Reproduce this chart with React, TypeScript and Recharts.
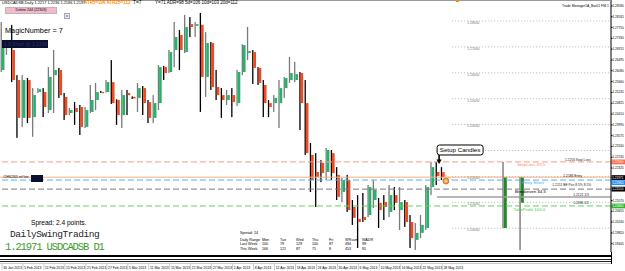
import React from "react";
import {
  ComposedChart,
  Bar,
  XAxis,
  YAxis,
  ReferenceLine,
  ReferenceArea,
  ReferenceDot,
} from "recharts";

// ── Daily candles, oldest first (USDCADSB D1) ─────────────────────────────────

const opens = [
  1.2611, 1.2696, 1.2688, 1.2572, 1.2426, 1.2572, 1.2429, 1.2526, 1.2526, 1.2456,
  1.2591, 1.2611, 1.2507, 1.2445, 1.2464, 1.2468, 1.2391, 1.2449, 1.2495, 1.2526,
  1.2526, 1.2564, 1.2495, 1.2437, 1.2522, 1.2507, 1.2503, 1.2541, 1.2487, 1.2426,
  1.2483, 1.2622, 1.2603, 1.2688, 1.2746, 1.268, 1.2788, 1.2781, 1.2785, 1.2584,
  1.2715, 1.2545, 1.2514, 1.2495, 1.2514, 1.2483, 1.2603, 1.2676, 1.268, 1.2619,
  1.2553, 1.2483, 1.2483, 1.2483, 1.2541, 1.2572, 1.2572, 1.2599, 1.2483, 1.2283,
  1.2217, 1.2252, 1.2217, 1.229, 1.2206, 1.214, 1.2186, 1.2082, 1.2036, 1.2043,
  1.2051, 1.2109, 1.2098, 1.2101, 1.2063, 1.2128, 1.207, 1.2101, 1.2024, 1.1955,
  1.1982, 1.2001, 1.2159, 1.2217, 1.2217,
];
const highs = [
  1.2796, 1.2727, 1.2785, 1.2591, 1.2591, 1.258, 1.2541, 1.2541, 1.2541, 1.2622,
  1.2688, 1.2619, 1.2522, 1.2464, 1.2487, 1.2476, 1.2468, 1.2553, 1.2561, 1.253,
  1.2572, 1.2649, 1.2498, 1.2534, 1.2534, 1.2509, 1.2561, 1.2549, 1.2495, 1.2514,
  1.263, 1.2626, 1.2688, 1.2796, 1.2765, 1.2823, 1.2815, 1.2796, 1.2831, 1.2757,
  1.2719, 1.2611, 1.2541, 1.2534, 1.2541, 1.2611, 1.271, 1.2777, 1.2688, 1.2622,
  1.2572, 1.2495, 1.2514, 1.2572, 1.2584, 1.2661, 1.2642, 1.2603, 1.2572, 1.2329,
  1.229, 1.2263, 1.231, 1.2302, 1.2236, 1.2194, 1.2206, 1.2109, 1.2128, 1.2136,
  1.2167, 1.2186, 1.2117, 1.2128, 1.2167, 1.2159, 1.2159, 1.2109, 1.2051, 1.202,
  1.2051, 1.2167, 1.2256, 1.2256, 1.2236,
];
const lows = [
  1.2603, 1.2669, 1.2564, 1.2349, 1.2391, 1.2406, 1.2353, 1.2522, 1.2429, 1.2445,
  1.2445, 1.2503, 1.2418, 1.2437, 1.2399, 1.236, 1.2387, 1.2445, 1.2456, 1.2522,
  1.2524, 1.248, 1.2399, 1.2387, 1.2437, 1.2499, 1.2449, 1.2437, 1.2406, 1.2406,
  1.2456, 1.2572, 1.2599, 1.2622, 1.2611, 1.2676, 1.2738, 1.2738, 1.2449, 1.2507,
  1.2534, 1.2495, 1.2426, 1.2476, 1.2429, 1.2472, 1.2591, 1.2649, 1.2557, 1.2553,
  1.2429, 1.2429, 1.2449, 1.2387, 1.2503, 1.2561, 1.2564, 1.2379, 1.2283, 1.214,
  1.2082, 1.2178, 1.2186, 1.2186, 1.2109, 1.2101, 1.2063, 1.2013, 1.1924, 1.2024,
  1.2043, 1.2078, 1.2001, 1.2032, 1.2043, 1.207, 1.1993, 1.2005, 1.1924, 1.1916,
  1.1962, 1.1993, 1.2128, 1.2167, 1.2186,
];
const closes = [
  1.2696, 1.2703, 1.2572, 1.2426, 1.2572, 1.2426, 1.2514, 1.2537, 1.2468, 1.2584,
  1.2611, 1.2514, 1.2437, 1.2456, 1.2449, 1.2391, 1.2456, 1.2495, 1.2526, 1.2524,
  1.2564, 1.2483, 1.2437, 1.2514, 1.2514, 1.2501, 1.2541, 1.2483, 1.2426, 1.2483,
  1.2622, 1.2599, 1.268, 1.2738, 1.2688, 1.2777, 1.2777, 1.2788, 1.2584, 1.2715,
  1.2545, 1.2514, 1.2495, 1.2514, 1.2487, 1.2603, 1.2707, 1.2684, 1.2619, 1.2561,
  1.2483, 1.2468, 1.2503, 1.2541, 1.258, 1.2599, 1.2595, 1.2483, 1.229, 1.2186,
  1.2198, 1.2213, 1.2302, 1.2213, 1.2121, 1.2186, 1.207, 1.204, 1.2024, 1.2032,
  1.2159, 1.2148, 1.207, 1.2082, 1.2128, 1.2098, 1.2101, 1.2024, 1.1962, 1.1982,
  1.2013, 1.2159, 1.2236, 1.2202, 1.2197,
];

const dateTicks = [0, 4, 8, 12, 16, 20, 24, 28, 32, 36, 40, 44, 48, 52, 56, 60, 64, 68, 72, 76, 80, 84];
const dateLabels = [
  "30 Jan 2013", "5 Feb 2013", "11 Feb 2013", "15 Feb 2013", "21 Feb 2013", "27 Feb 2013",
  "5 Mar 2013", "11 Mar 2013", "15 Mar 2013", "21 Mar 2013", "27 Mar 2013", "2 Apr 2013",
  "8 Apr 2013", "12 Apr 2013", "18 Apr 2013", "24 Apr 2013", "30 Apr 2013", "6 May 2013",
  "10 May 2013", "16 May 2013", "22 May 2013", "28 May 2013",
];

// right scale (the two labels hidden under the bid / breakeven tags are left out)
const priceTicks = [
  1.2858, 1.28165, 1.2775, 1.2733, 1.26915, 1.26495, 1.2608, 1.2566, 1.25245, 1.24825,
  1.2441, 1.2399, 1.23575, 1.2316, 1.2274, 1.22325, 1.2107, 1.20655,
  1.2024, 1.1982, 1.19405,
];

// round-number levels drawn by the trade manager (dotted, right part only)
const roundLevels = [1.28, 1.27, 1.26, 1.25, 1.24, 1.23, 1.22, 1.21, 1.2];
const roundLabels = ["1.28000", "1.27000", "1.26000", "1.25000", "1.24000", "", "1.22000", "1.21000", "1.20000"];

// trade levels
const stopLoss = 1.2256;
const bidPrice = 1.21971;
const entryShort = 1.2186;
const breakeven = 1.2151;
const thirdTarget = 1.2121;
const takeProfit = 1.2086;

// risk / reward bars to the right of price
const projIdx = [95.6, 98.85];
const projHigh = [1.2256, 1.2198];
const projLow = [1.2001, 1.1916];
const projTop = [1.2198, 1.2198];
const projBottom = [1.2001, 1.2098];

const tmNotes = [
  { x: 98.3, y: 1.2245, text: "StopLoss  69.5", color: "#FF8A6A", size: 4.4 },
  { x: 99.2, y: 1.2175, text: "Entry Short", color: "#3FA9F5", size: 4.4 },
  { x: 97.9, y: 1.2140, text: "Breakeven  34.5", color: "#000000", size: 4.4 },
  { x: 97.6, y: 1.2074, text: "TakeProfit  100.0", color: "#3CCB3C", size: 4.4 },
  { x: 107.4, y: 1.2263, text: "1.2256   Stop Loss", color: "#222", size: 3.3 },
  { x: 107.1, y: 1.2203, text: "1.2186   Entry", color: "#222", size: 3.3 },
  { x: 105.0, y: 1.2165, text: "1.2151   BE Pos 8.5% 8.5%", color: "#222", size: 3.3 },
  { x: 109.0, y: 1.2130, text: "1.2121   1/3", color: "#222", size: 3.3 },
  { x: 109.0, y: 1.2096, text: "1.2086   1/2", color: "#222", size: 3.3 },
];

const weekTable = [
  ["Daily Range", "Mon", "Tue", "Wed", "Thu", "Fri", "WRsum", "WADR"],
  ["Last Week", "100", "79", "129", "100", "87", "494", "99"],
  ["This Week", "166", "121", "87", "71", "8", "453", "91"],
];

// ── Chart setup ───────────────────────────────────────────────────────────────

const W = 625;
const H = 271;
const X_DOMAIN: [number, number] = [-0.38, 116.2];
const Y_DOMAIN: [number, number] = [1.19083, 1.2881];
const X_END = 116.2;

const SANS = "'Liberation Sans', Arial, sans-serif";
const MONO = "'Liberation Mono', 'DejaVu Sans Mono', monospace";

const GREEN = "#24B36A";
const RED = "#F4481E";

const bars = opens.map((o, i) => ({ i, open: o, high: highs[i], low: lows[i], close: closes[i] }));
const last = bars[bars.length - 1];

function Candle(props: any) {
  const { x, y, width, height, payload } = props;
  if (!payload) return null;
  const { open, close, high, low } = payload;
  const top0 = Math.min(y, y + height);
  const h = Math.abs(height);
  const cx = x + width / 2;
  const span = high - low || 1e-6;
  const py = (p: number) => top0 + ((high - p) / span) * h;
  const up = close >= open;
  const bTop = py(Math.max(open, close));
  const bBot = py(Math.min(open, close));
  return (
    <g>
      <rect x={cx - 1.8} y={top0} width={1.3} height={Math.max(h, 1)} fill={up ? "#7a7a7a" : "#000"} />
      <rect x={cx - 0.5} y={bTop} width={2.6} height={Math.max(bBot - bTop, 1.2)} fill={up ? GREEN : RED} />
    </g>
  );
}

function DateTick(props: any) {
  const { x, payload } = props;
  const k = dateTicks.indexOf(payload.value);
  return (
    <g>
      <line x1={x} y1={264} x2={x} y2={270} stroke="#999" strokeWidth={0.5} />
      <text x={x + 1.2} y={269.3} fontSize={3.4} fill="#000" fontFamily={SANS}>
        {dateLabels[k]}
      </text>
    </g>
  );
}

// coloured price tag sitting on the right axis
function AxisTag(props: any) {
  const { viewBox, txt, bg, fg, dy = 0 } = props;
  if (!viewBox) return null;
  const { x, y, width } = viewBox;
  return (
    <g>
      <rect x={x + width + 0.5} y={y + dy - 2.4} width={13.5} height={4.8} fill={bg} />
      <text x={x + width + 1.2} y={y + dy + 1.1} fontSize={3.1} fill={fg} fontFamily={SANS}>
        {txt}
      </text>
    </g>
  );
}

function LevelText(props: any) {
  const { viewBox, txt } = props;
  if (!viewBox || !txt) return null;
  return (
    <text x={viewBox.x + 15} y={viewBox.y + 2.8} fontSize={3.4} fill="#777" fontFamily={SANS}>
      {txt}
    </text>
  );
}

function SetupCallout(p: any) {
  const { cx, cy } = p;
  return (
    <g>
      <rect x={cx - 2} y={cy - 19} width={46} height={10} rx={2.5} fill="#fff" stroke="#000" strokeWidth={1} />
      <text x={cx + 21} y={cy - 11.8} fontSize={6.2} textAnchor="middle" fill="#000" fontFamily={SANS}>
        Setup Candles
      </text>
      <line x1={cx} y1={cy - 9} x2={cx} y2={cy - 4} stroke="#000" strokeWidth={1.6} />
      <path d={`M${cx - 2.6},${cy - 4.5} L${cx + 2.6},${cy - 4.5} L${cx},${cy} Z`} fill="#000" />
    </g>
  );
}

function OrderMark(p: any) {
  const { cx, cy } = p;
  return (
    <g>
      <circle cx={cx} cy={cy} r={3} fill="#F39A3A" stroke="#D0651C" strokeWidth={0.8} />
      <path d={`M${cx - 1.4},${cy} L${cx + 1.4},${cy} M${cx},${cy - 1.4} L${cx},${cy + 1.4}`} stroke="#fff" strokeWidth={0.7} />
    </g>
  );
}

function noteShape(n: { text: string; color: string; size: number }) {
  return (p: any) => (
    <text x={p.cx} y={p.cy} dominantBaseline="central" fontSize={n.size} fill={n.color} fontFamily={SANS}>
      {n.text}
    </text>
  );
}

function T({ x, y, size, color = "#000", font = SANS, bold = false, spacing = 0, children }: any) {
  return (
    <span
      style={{
        position: "absolute",
        left: x,
        top: y,
        fontSize: size,
        color,
        fontFamily: font,
        fontWeight: bold ? 700 : 400,
        letterSpacing: spacing,
        lineHeight: 1,
        whiteSpace: "nowrap",
      }}
    >
      {children}
    </span>
  );
}

const tableCols = [240, 262, 280, 296, 312, 329, 345, 362];

export default function App() {
  return (
    <div style={{ position: "absolute", left: 0, top: 0, width: W, height: H, background: "#fff", overflow: "hidden" }}>
      <ComposedChart width={W} height={H} data={bars} margin={{ top: 0, right: 0, left: 0, bottom: 0 }}>
        <XAxis
          type="number"
          dataKey="i"
          domain={X_DOMAIN}
          allowDataOverflow
          ticks={dateTicks}
          interval={0}
          tick={<DateTick />}
          axisLine={false}
          tickLine={false}
          height={19}
        />
        <YAxis
          orientation="right"
          type="number"
          domain={Y_DOMAIN}
          allowDataOverflow
          ticks={priceTicks}
          interval={0}
          width={14}
          tickSize={1.5}
          tickMargin={0}
          tick={{ fontSize: 3.1, fill: "#000", fontFamily: SANS }}
          tickFormatter={(v: number) => v.toFixed(5)}
          axisLine={{ stroke: "#000" }}
          tickLine={{ stroke: "#000" }}
        />

        {roundLevels.map((lv, k) => (
          <ReferenceLine
            key={lv}
            segment={[{ x: 85.9, y: lv }, { x: X_END, y: lv }]}
            stroke="#b4b4b4"
            strokeDasharray="1 2"
            label={<LevelText txt={roundLabels[k]} />}
          />
        ))}

        <ReferenceLine y={stopLoss} stroke="#FF9C82" strokeDasharray="6 3" label={<AxisTag txt="1.22560" bg="#FF6A4D" fg="#fff" />} />
        <ReferenceLine y={bidPrice} stroke="#F6B07C" label={<AxisTag txt="1.21971" bg="#000" fg="#fff" dy={0.4} />} />
        <ReferenceLine y={entryShort} stroke="#4DB2FF" strokeDasharray="6 3" label={<AxisTag txt="1.21860" bg="#1E90FF" fg="#fff" dy={2.6} />} />
        <ReferenceLine y={breakeven} stroke="#7a7a7a" strokeDasharray="6 3" label={<AxisTag txt="1.21510" bg="#000" fg="#fff" />} />
        <ReferenceLine segment={[{ x: 83, y: thirdTarget }, { x: X_END, y: thirdTarget }]} stroke="#a0a0a0" strokeWidth={1.5} />
        <ReferenceLine y={takeProfit} stroke="#5AD55A" strokeDasharray="6 3" label={<AxisTag txt="1.20860" bg="#2EB82E" fg="#fff" />} />

        {projIdx.map((px, k) => (
          <ReferenceLine
            key={"w" + k}
            segment={[{ x: px, y: projHigh[k] }, { x: px, y: projLow[k] }]}
            stroke="#8a8a8a"
            strokeWidth={1.6}
          />
        ))}
        {projIdx.map((px, k) => (
          <ReferenceArea
            key={"b" + k}
            x1={px + 0.15}
            x2={px + 0.72}
            y1={projBottom[k]}
            y2={projTop[k]}
            fill="#1F8A1F"
            fillOpacity={1}
            stroke="none"
          />
        ))}

        <Bar dataKey={(d: any) => [d.low, d.high]} barSize={4} shape={<Candle />} isAnimationActive={false} />

        <ReferenceLine segment={[{ x: 83.9, y: 1.2217 }, { x: 86.1, y: 1.2182 }]} stroke="#F4A060" strokeDasharray="1 1" />
        <ReferenceDot x={84.7} y={1.2182} r={3} shape={OrderMark} />
        <ReferenceDot x={83.4} y={1.2248} r={2} shape={SetupCallout} />

        {tmNotes.map((n) => (
          <ReferenceDot key={n.text} x={n.x} y={n.y} r={1} shape={noteShape(n)} />
        ))}
      </ComposedChart>

      {/* frame */}
      <div style={{ position: "absolute", left: 0, top: 0, width: 611, height: 1, background: "#9a9a9a" }} />
      <div style={{ position: "absolute", left: 456, top: 0, width: 3, height: 2, background: "#F08A24" }} />
      <div style={{ position: "absolute", left: 0, top: 255, width: 611, height: 2, background: "#000" }} />
      <div style={{ position: "absolute", left: 0, top: 259, width: 611, height: 1, background: "#222" }} />
      <div style={{ position: "absolute", left: 0, top: 261, width: 611, height: 1, background: "#222" }} />
      <div style={{ position: "absolute", left: 0, top: 263, width: 611, height: 1, background: "#c8c8c8" }} />
      <div style={{ position: "absolute", left: 611, top: 252, width: 1, height: 12, background: "#000" }} />

      {/* header line */}
      <T x={2} y={1.2} size={3.9}>
        {`USDCADSB,Daily ${last.open.toFixed(4)} ${last.high.toFixed(4)} ${last.low.toFixed(4)} ${last.close.toFixed(4)}`}
      </T>
      <T x={84} y={0.8} size={4.5} color="#FF8C00" bold>ATR5=106  ATR25=112</T>
      <T x={133} y={0.8} size={4.8}>T=7</T>
      <T x={155} y={1} size={4.5}>Y=71  ADR=98  5d=106  10d=103  20d=112</T>
      <T x={562} y={4.5} size={3.4}>Trade Manager1A_Bar01 FM.1</T>

      {/* buttons */}
      <div
        style={{
          position: "absolute", left: 5, top: 7, width: 52, height: 7, background: "#F6B8CC",
          border: "1px solid #b9b9b9", boxSizing: "border-box", fontFamily: SANS, fontSize: 3.6,
          textAlign: "center", lineHeight: "5px",
        }}
      >
        Delete 244 (22303)
      </div>
      <div
        style={{
          position: "absolute", left: 64, top: 13, width: 6, height: 6, background: "#dfe6f0",
          border: "1px solid #aab", boxSizing: "border-box", fontFamily: SANS, fontSize: 3.6,
          textAlign: "center", lineHeight: "4px", color: "#226",
        }}
      >
        s
      </div>

      <T x={5} y={27} size={7.3}>MagicNumber = 7</T>
      <div
        style={{
          position: "absolute", left: 2, top: 40, width: 46, height: 8, background: "#0B1030",
          fontFamily: SANS, fontSize: 5, color: "#23307a", lineHeight: "8px", paddingLeft: 2, boxSizing: "border-box",
          whiteSpace: "nowrap", overflow: "hidden",
        }}
      >
        1.0 Short @ 1.2186
      </div>

      {/* left line tag */}
      <T x={3} y={175.6} size={3.2}>#2HS2305 ref line</T>
      <div style={{ position: "absolute", left: 31, top: 175, width: 12, height: 7, background: "#0B1030" }} />

      {/* lower left info */}
      <T x={31} y={219.5} size={6.6}>Spread: 2.4 points.</T>
      <T x={10} y={229.5} size={9.5} font={MONO} color="#1d1d2b" spacing={-0.45}>DailySwingTrading</T>
      <T x={5} y={241.5} size={10.5} font={MONO} color="#3A9A2A" spacing={-1.1}>1.21971 USDCADSB D1</T>

      {/* weekly range table */}
      <T x={240} y={232} size={3.7}>Spread: 24</T>
      {weekTable.map((row, r) =>
        row.map((cell, c) => (
          <T key={r + "-" + c} x={tableCols[c]} y={238.5 + r * 4.6} size={3.7}>
            {cell}
          </T>
        ))
      )}
    </div>
  );
}
